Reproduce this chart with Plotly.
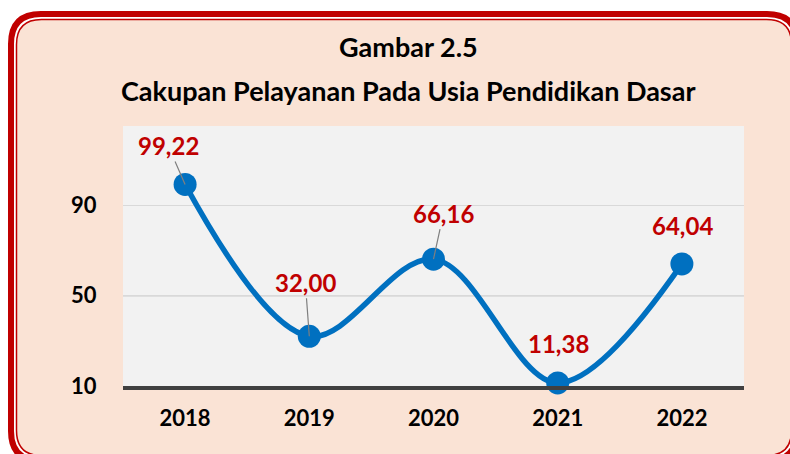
import plotly.graph_objects as go

years = ["2018", "2019", "2020", "2021", "2022"]
values = [99.22, 32.00, 66.16, 11.38, 64.04]
value_labels = ["99,22", "32,00", "66,16", "11,38", "64,04"]
y_ticks = [10, 50, 90]
title_line1 = "Gambar 2.5"
title_line2 = "Cakupan Pelayanan Pada Usia Pendidikan Dasar"

W, H = 790, 454
L, R, T, B = 123, 744, 126, 386
FONT = "Lato"
RED = "#C00000"
BLUE = "#0070C0"


def px(x):
    return (x - L) / (R - L)


def py(y):
    return (B - y) / (B - T)


def rrect(x0, y0, x1, y1, r):
    pts = [
        f"M {px(x0 + r)},{py(y0)}",
        f"L {px(x1 - r)},{py(y0)}",
        f"Q {px(x1)},{py(y0)} {px(x1)},{py(y0 + r)}",
        f"L {px(x1)},{py(y1 - r)}",
        f"Q {px(x1)},{py(y1)} {px(x1 - r)},{py(y1)}",
        f"L {px(x0 + r)},{py(y1)}",
        f"Q {px(x0)},{py(y1)} {px(x0)},{py(y1 - r)}",
        f"L {px(x0)},{py(y0 + r)}",
        f"Q {px(x0)},{py(y0)} {px(x0 + r)},{py(y0)}",
        "Z",
    ]
    return " ".join(pts)


fig = go.Figure()
fig.add_trace(go.Scatter(
    x=years, y=values, mode="lines+markers",
    line=dict(color=BLUE, width=5.5, shape="spline", smoothing=1.0),
    marker=dict(color=BLUE, size=23),
    hoverinfo="skip", showlegend=False, cliponaxis=False,
))

# label offsets (pixels) and leader-line visibility
offsets = [(-17, -39), (-4, -54), (10, -46), (1, -39), (1, -38)]
leaders = [True, True, True, False, False]
annotations = []
for i, (v, lab, (dx, dy), ld) in enumerate(zip(values, value_labels, offsets, leaders)):
    annotations.append(dict(
        x=i, y=v, xref="x", yref="y", text=lab,
        showarrow=True, ax=dx, ay=dy, arrowhead=0, arrowwidth=1.2,
        arrowcolor="#7F7F7F" if ld else "rgba(0,0,0,0)",
        font=dict(family=FONT, size=24, color=RED, weight=700),
        xanchor="center", yanchor="middle",
    ))

annotations.append(dict(
    x=px(408), y=py(47), xref="paper", yref="paper", text=title_line1,
    showarrow=False, xanchor="center", yanchor="middle",
    font=dict(family=FONT, size=27, color="black", weight=700),
))
annotations.append(dict(
    x=px(408), y=py(90), xref="paper", yref="paper", text=title_line2,
    showarrow=False, xanchor="center", yanchor="middle",
    font=dict(family=FONT, size=27, color="black", weight=700),
))

shapes = [
    dict(type="path", xref="paper", yref="paper", path=rrect(11, 14, 797, 461, 30),
         line=dict(color=RED, width=6), fillcolor="#FFFFFF", layer="below"),
    dict(type="path", xref="paper", yref="paper", path=rrect(16.5, 19.5, 791.5, 455.5, 25),
         line=dict(color=RED, width=1.5), fillcolor="#FAE3D5", layer="below"),
    dict(type="rect", xref="paper", yref="paper", x0=0, x1=1, y0=0, y1=1,
         line=dict(width=0), fillcolor="#F2F2F2", layer="below"),
    dict(type="line", xref="paper", yref="y", x0=0, x1=1, y0=50, y1=50,
         line=dict(color="#A6A6A6", width=1.2), layer="below"),
]

fig.update_layout(
    width=W, height=H,
    margin=dict(l=L, r=W - R, t=T, b=H - B, pad=0),
    paper_bgcolor="white", plot_bgcolor="#F2F2F2",
    showlegend=False,
    annotations=annotations, shapes=shapes,
    xaxis=dict(
        type="category", range=[-0.5, 4.5], showgrid=False, zeroline=False,
        showline=True, linecolor="#404040", linewidth=3.5,
        ticks="outside", ticklen=10, tickcolor="rgba(0,0,0,0)",
        tickfont=dict(family=FONT, size=22, color="black", weight=700),
        fixedrange=True,
    ),
    yaxis=dict(
        range=[10, 125.1], tickvals=y_ticks, ticktext=[str(t) for t in y_ticks],
        showgrid=True, gridcolor="#D9D9D9", gridwidth=1.2, zeroline=False,
        showline=False, ticks="outside", ticklen=21, tickcolor="rgba(0,0,0,0)",
        tickfont=dict(family=FONT, size=22, color="black", weight=700),
        fixedrange=True,
    ),
)

fig.write_html(
    "out.html",
    config={"displayModeBar": False},
    post_script="document.body.style.margin='0';document.body.style.padding='0';",
)
